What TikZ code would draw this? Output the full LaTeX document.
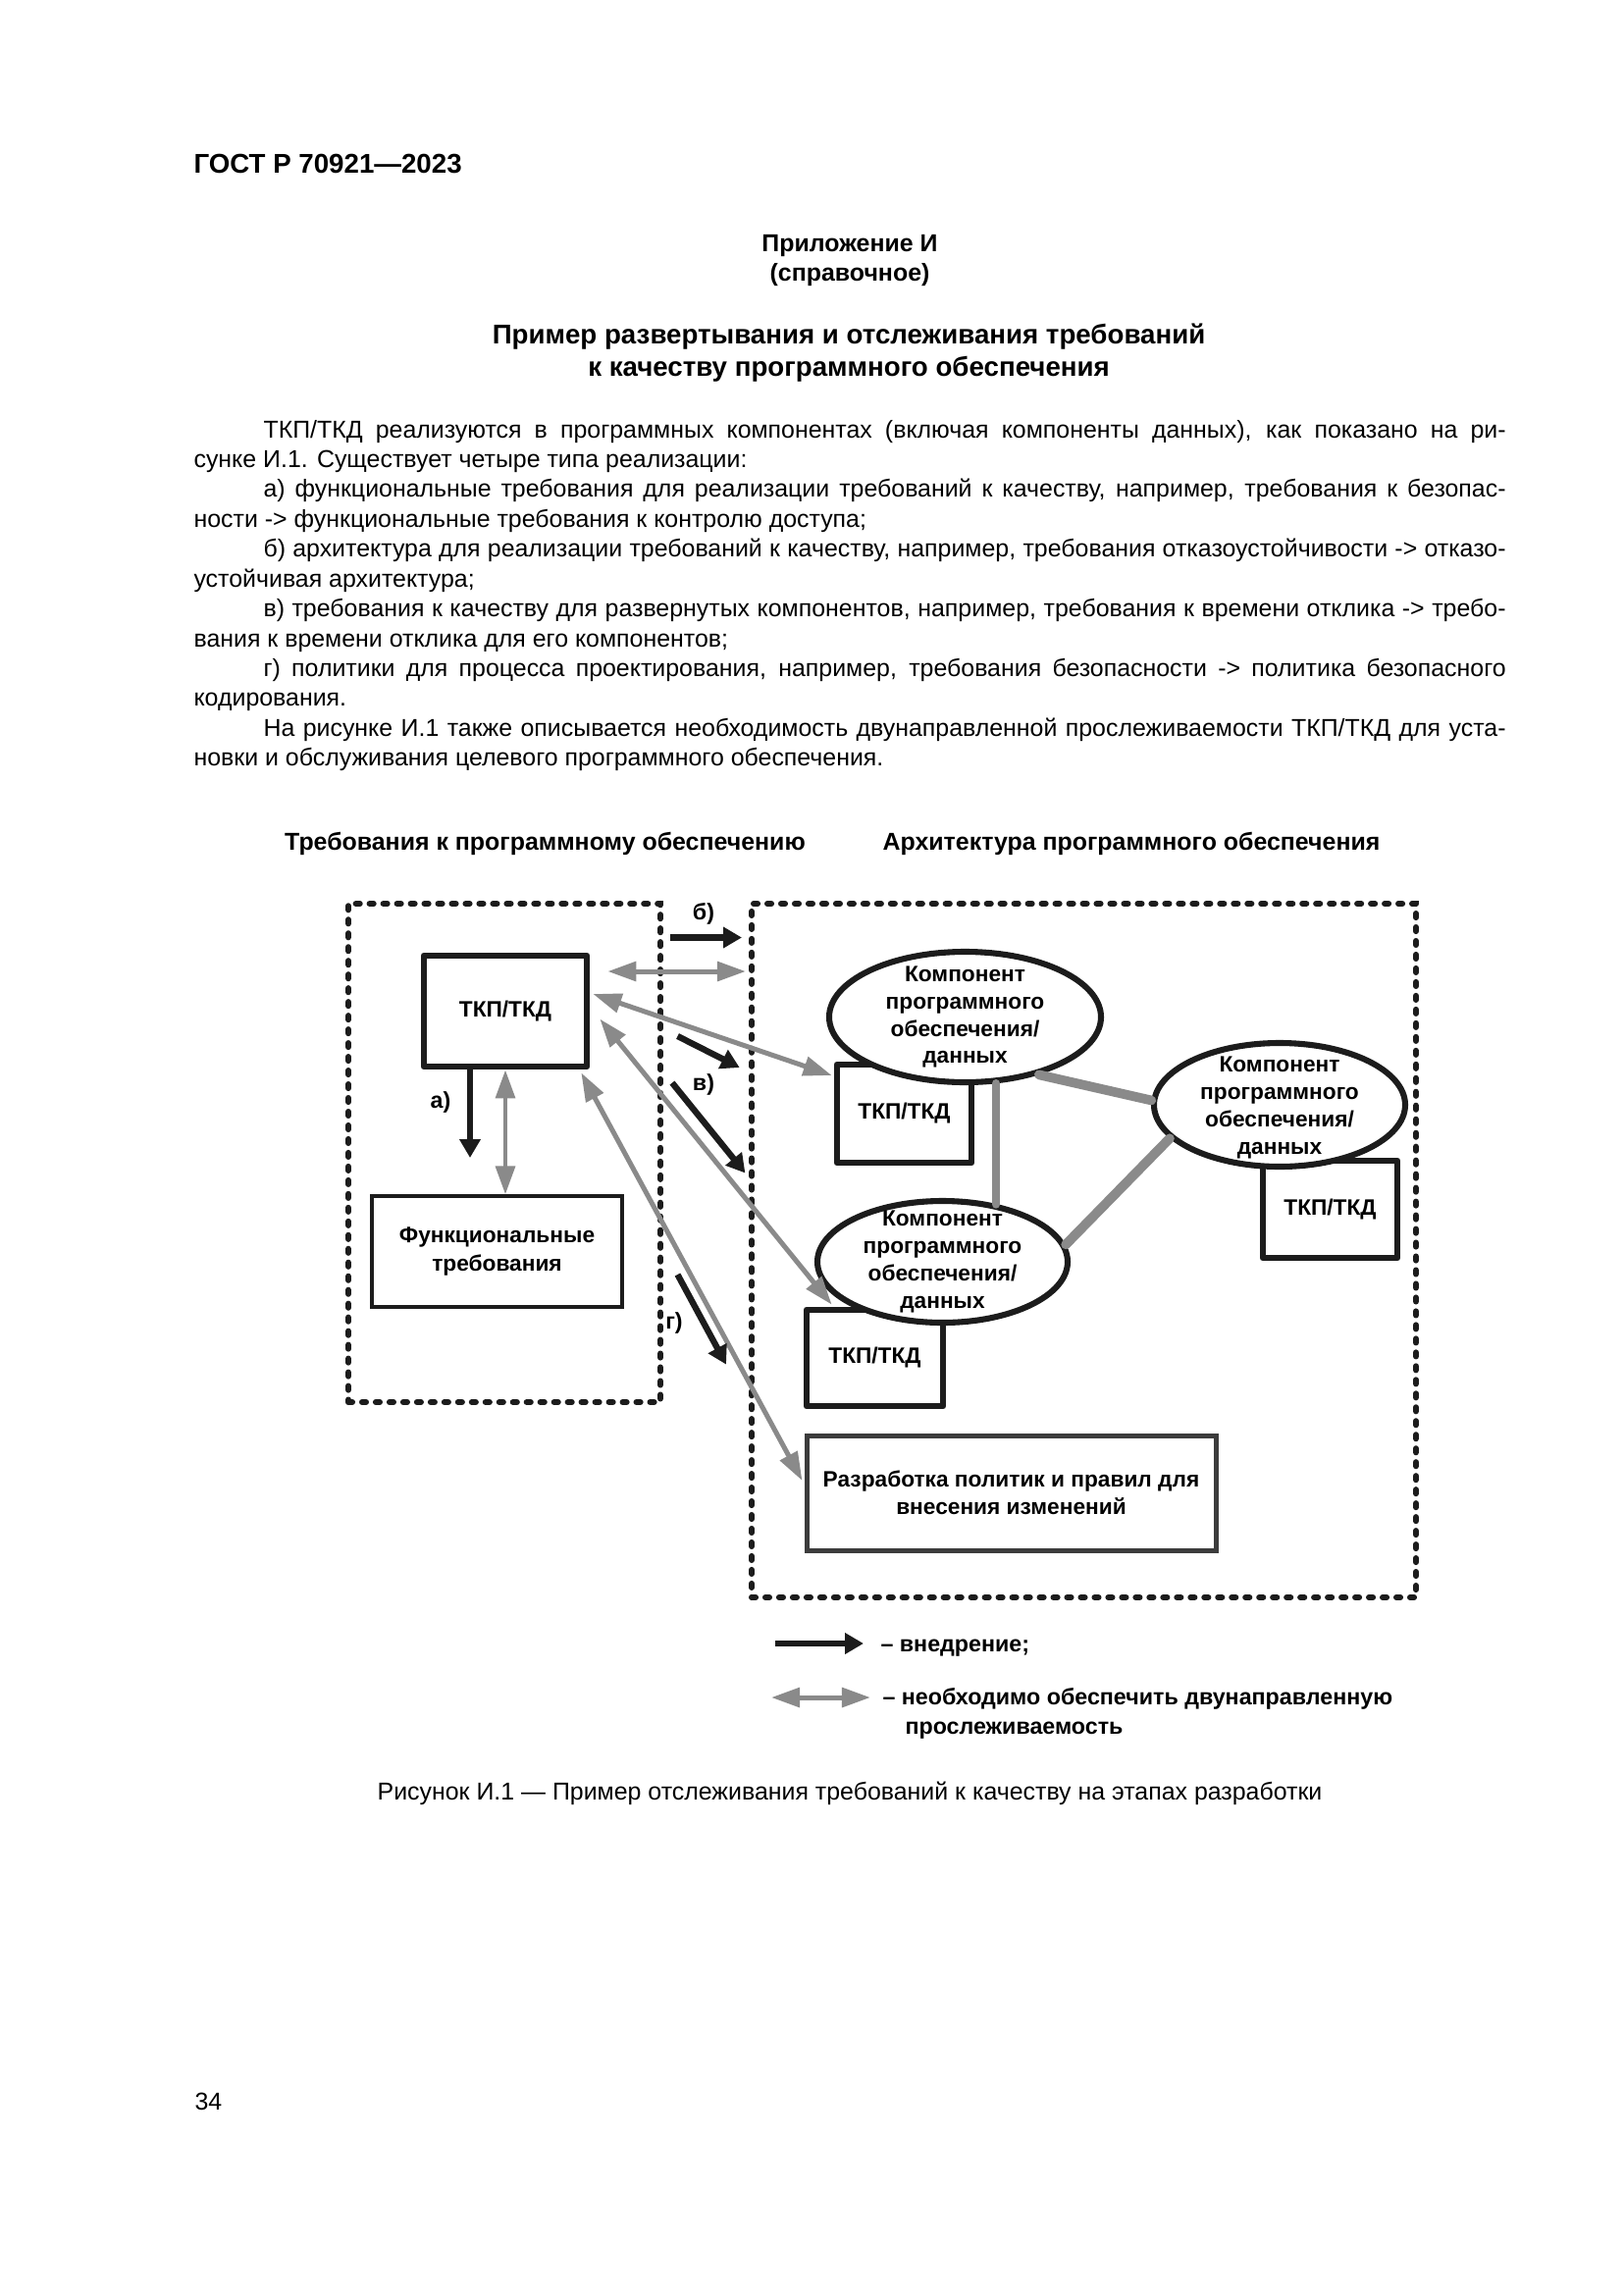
\documentclass[tikz,border=0pt]{standalone}
\usepackage{fontspec}
\setmainfont{Liberation Sans}
\usetikzlibrary{arrows.meta,shapes.geometric,calc,backgrounds}
\newlength\PXL
\setlength\PXL{0.12697mm}
\newcommand\pw[1]{#1*0.12697mm}
\definecolor{ink}{HTML}{1C1C1C}
\definecolor{gline}{HTML}{8A8A8A}
\definecolor{rbox}{HTML}{3C3C3C}
\tikzset{
  body/.style={anchor=base west, inner sep=0, font=\fontsize{9}{11}\selectfont},
  dframe/.style={draw=ink, line width=2.2pt, dash pattern=on 1.45pt off 3.6pt, line cap=round, inner sep=0},
  tkpbox/.style={draw=ink, line width=2.4pt, line join=round, fill=white, inner sep=0, font=\bfseries\fontsize{8.2}{10}\selectfont},
  comp/.style={ellipse, draw=ink, line width=2.2pt, fill=white, inner sep=0},
  comptext/.style={inner sep=0, align=center, font=\bfseries\fontsize{8.2}{10.1}\selectfont},
  impl/.style={draw=ink, line width=2.3pt, -{Triangle[length=6.8pt,width=7.4pt]}},
  trace/.style={draw=gline, line width=1.8pt, {Triangle[length=10.5pt,width=7pt]}-{Triangle[length=10.5pt,width=7pt]}},
  link/.style={draw=gline, line width=3.5pt, line cap=round},
  lbl/.style={inner sep=0, font=\bfseries\fontsize{8.4}{10}\selectfont},
  hdr/.style={anchor=base, inner sep=0, font=\bfseries\fontsize{9}{11}\selectfont},
  legtext/.style={anchor=base west, inner sep=0, font=\bfseries\fontsize{8.4}{10.8}\selectfont},
}
\begin{document}
\begin{tikzpicture}[x=0.12697mm, y=-0.12697mm]
\useasboundingbox (0,0) rectangle (1654,2339);

% ---- page header and text ----
\node[anchor=base west, inner sep=0, font=\bfseries\fontsize{10}{12}\selectfont] (gost) at (197,177) {ГОСТ Р 70921—2023};
\node[anchor=base, inner sep=0, font=\bfseries\fontsize{9}{11}\selectfont] (app) at (866,256) {Приложение И};
\node[anchor=base, inner sep=0, font=\bfseries\fontsize{9}{11}\selectfont] (appk) at (866,286) {(справочное)};
\node[anchor=base, inner sep=0, font=\bfseries\fontsize{10}{12}\selectfont] (t1) at (865,350) {Пример развертывания и отслеживания требований};
\node[anchor=base, inner sep=0, font=\bfseries\fontsize{10}{12}\selectfont] (t2) at (865,383.5) {к качеству программного обеспечения};

\node[body] (p0) at (268,446) {\makebox[1266\PXL][s]{ТКП/ТКД реализуются в программных компонентах (включая компоненты данных), как показано на ри-}};
\node[body] (p1) at (197,476.4) {сунке И.1. Существует четыре типа реализации:};
\node[body] (p2) at (268,506.9) {\makebox[1266\PXL][s]{а) функциональные требования для реализации требований к качеству, например, требования к безопас-}};
\node[body] (p3) at (197,537.3) {ности -> функциональные требования к контролю доступа;};
\node[body] (p4) at (268,567.7) {\makebox[1266\PXL][s]{б) архитектура для реализации требований к качеству, например, требования отказоустойчивости -> отказо-}};
\node[body] (p5) at (197,598.2) {устойчивая архитектура;};
\node[body] (p6) at (268,628.6) {\makebox[1266\PXL][s]{в) требования к качеству для развернутых компонентов, например, требования к времени отклика -> требо-}};
\node[body] (p7) at (197,659) {вания к времени отклика для его компонентов;};
\node[body] (p8) at (268,689.4) {\makebox[1266\PXL][s]{г) политики для процесса проектирования, например, требования безопасности -> политика безопасного}};
\node[body] (p9) at (197,719.9) {кодирования.};
\node[body] (p10) at (268,750.3) {\makebox[1266\PXL][s]{На рисунке И.1 также описывается необходимость двунаправленной прослеживаемости ТКП/ТКД для уста-}};
\node[body] (p11) at (197,780.7) {новки и обслуживания целевого программного обеспечения.};

% ---- diagram frames ----
\node[hdr] (hreq) at (555.5,866) {Требования к программному обеспечению};
\node[hdr] (harch) at (1153,866) {Архитектура программного обеспечения};
\node[dframe, minimum width=\pw{318}, minimum height=\pw{508}] (req) at (514,1175) {};
\node[dframe, minimum width=\pw{677}, minimum height=\pw{707}] (arch) at (1104.5,1274.5) {};

% ---- left side ----
\node[tkpbox, minimum width=\pw{166}, minimum height=\pw{113}] (tkp0) at (515,1030.5) {ТКП/ТКД};
\node[draw=ink, line width=1.1pt, inner sep=0, minimum width=\pw{255}, minimum height=\pw{113}, align=center, font=\bfseries\fontsize{8.2}{10.3}\selectfont] (func) at (506.5,1275.5) {Функциональные\\требования};

% ---- right side ----
\node[tkpbox, minimum width=\pw{137}, minimum height=\pw{100}] (tkp1) at (921.5,1135) {ТКП/ТКД};
\node[tkpbox, minimum width=\pw{137}, minimum height=\pw{99}] (tkp2) at (1355.5,1232.5) {ТКП/ТКД};
\node[tkpbox, minimum width=\pw{139}, minimum height=\pw{98}] (tkp3) at (891.5,1384) {ТКП/ТКД};
\node[draw=rbox, line width=1.8pt, inner sep=0, minimum width=\pw{417}, minimum height=\pw{117}, align=center, font=\bfseries\fontsize{8.2}{10.1}\selectfont] (rasrab) at (1030.5,1521.5) {Разработка политик и правил для\\внесения изменений};

\node[comp, minimum width=\pw{277}, minimum height=\pw{133}] (e1) at (983.5,1036.5) {};
\node[comp, minimum width=\pw{256}, minimum height=\pw{126}] (e2) at (1304,1126) {};
\node[comp, minimum width=\pw{255}, minimum height=\pw{124}] (e3) at (960.5,1286) {};
\node[comptext] (e1t) at (e1.center) {Компонент\\программного\\обеспечения/\\данных};
\node[comptext] (e2t) at ($(e2.center)+(0,3)$) {Компонент\\программного\\обеспечения/\\данных};
\node[comptext] (e3t) at (e3.center) {Компонент\\программного\\обеспечения/\\данных};

% ---- links between components ----
\draw[link, line width=3.1pt] (e1.-65) -- (e1.-65 |- e3.46.5);
\draw[link] (e1.-38) -- (e2.178);
\draw[link] (e3.8.5) -- (e2.197);

% ---- traceability arrows (grey) ----
\draw[trace] ($(tkp0.east)+(3,-17.5)$) -- ($(tkp1.west)+(-2,-39)$);
\draw[trace] ($(tkp0.east)+(10,8)$) -- ($(tkp3.north west)+(29,-2)$);
\draw[trace] ($(tkp0.south east)+(-9,3)$) -- ($(rasrab.west)+(-2,-12.5)$);
\draw[trace] ($(tkp0.east)+(18,-40.5)$) -- ($(arch.west |- tkp0.east)+(-3,-40.5)$);
\draw[trace] (tkp0.south) -- (tkp0.south |- func.north);

% ---- implementation arrows (black) ----
\coordinate (aS) at (479,1090);  \coordinate (aE) at (479,1180);
\coordinate (bS) at (683,955.5); \coordinate (bE) at (756,955.5);
\coordinate (v1S) at (690.5,1056); \coordinate (v1E) at (753.7,1088);
\coordinate (v2S) at (685,1103.6); \coordinate (v2E) at (759.4,1195.5);
\coordinate (gS) at (690.5,1299); \coordinate (gE) at (740,1390.6);
\draw[impl] (aS) -- (aE);
\draw[impl] (bS) -- (bE);
\draw[impl] (v1S) -- (v1E);
\draw[impl] (v2S) -- (v2E);
\draw[impl] (gS) -- (gE);
\node[lbl] (la) at (449,1123) {а)};
\node[lbl] (lb) at (717,931) {б)};
\node[lbl] (lv) at (717,1105.5) {в)};
\node[lbl] (lg) at (687,1348.6) {г)};

% ---- legend ----
\coordinate (k1S) at (790,1675); \coordinate (k1E) at (880,1675);
\coordinate (k2S) at (786,1730); \coordinate (k2E) at (887,1730);
\draw[impl] (k1S) -- (k1E);
\draw[trace] (k2S) -- (k2E);
\node[legtext] (lt1) at (897,1683) {– внедрение;};
\node[legtext] (lt2) at (899,1737) {– необходимо обеспечить двунаправленную};
\node[legtext] (lt3) at (922,1767) {прослеживаемость};

\node[anchor=base, inner sep=0, font=\fontsize{9}{11}\selectfont] (cap) at (866,1834) {Рисунок И.1 — Пример отслеживания требований к качеству на этапах разработки};
\node[anchor=base west, inner sep=0, font=\fontsize{9}{11}\selectfont] (pg) at (198,2150) {34};

\begin{pgfonlayer}{background}
\fill[white] (0,0) rectangle (1654,2339);
\end{pgfonlayer}
\end{tikzpicture}
\end{document}
